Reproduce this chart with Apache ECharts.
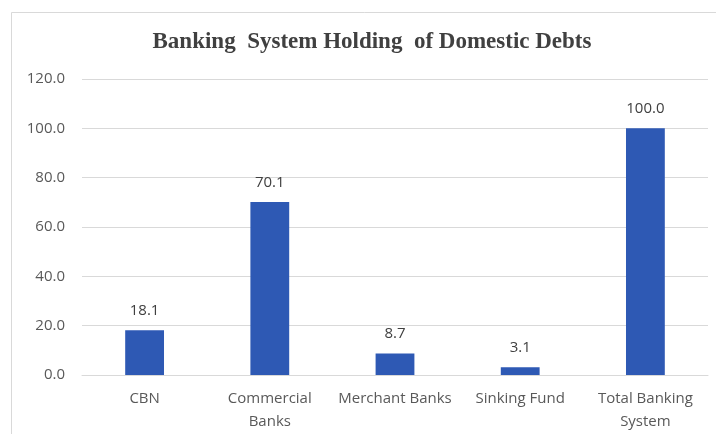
<!DOCTYPE html>
<html>
<head>
<meta charset="utf-8">
<script src="https://cdn.jsdelivr.net/npm/echarts@6/dist/echarts.min.js"></script>
<style>
  html, body { margin: 0; padding: 0; background: #fff; }
  #chart { width: 716px; height: 434px; }
</style>
</head>
<body>
<div id="chart"></div>
<script>
// Holdings of domestic debt by institution (percent share)
const categories = ['CBN', 'Commercial\nBanks', 'Merchant Banks', 'Sinking Fund', 'Total Banking\nSystem'];
const shares = [18.1, 70.1, 8.7, 3.1, 100.0];
const yTicks = { min: 0, max: 120, step: 20 };

const textFont = '"Open Sans", "Noto Sans", sans-serif';
const chart = echarts.init(document.getElementById('chart'), null, { renderer: 'canvas' });

chart.setOption({
  animation: false,
  backgroundColor: '#ffffff',
  graphic: [{
    type: 'rect',
    shape: { x: 11.5, y: 12.5, width: 720, height: 440 },
    style: { fill: 'none', stroke: '#d9d9d9', lineWidth: 1 },
    silent: true
  }],
  title: {
    text: 'Banking  System Holding  of Domestic Debts',
    left: 367,
    top: 26,
    textAlign: 'center',
    textStyle: {
      fontFamily: '"Liberation Serif", "DejaVu Serif", serif',
      fontWeight: 'bold',
      fontSize: 23,
      color: '#404040'
    }
  },
  grid: { left: 82, right: 8, top: 79, bottom: 59, containLabel: false },
  xAxis: {
    type: 'category',
    data: categories,
    axisLine: { lineStyle: { color: '#d9d9d9', width: 1 } },
    axisTick: { show: false },
    axisLabel: {
      color: '#595959',
      fontFamily: textFont,
      fontSize: 15,
      margin: 12,
      lineHeight: 23,
      interval: 0
    }
  },
  yAxis: {
    type: 'value',
    min: yTicks.min,
    max: yTicks.max,
    interval: yTicks.step,
    axisLine: { show: false },
    axisTick: { show: false },
    splitLine: { lineStyle: { color: '#d9d9d9', width: 1 } },
    axisLabel: {
      color: '#595959',
      fontFamily: textFont,
      fontSize: 15,
      margin: 17,
      formatter: v => v.toFixed(1)
    }
  },
  series: [{
    type: 'bar',
    data: shares,
    barWidth: '31%',
    itemStyle: { color: '#2e59b4' },
    label: {
      show: true,
      position: 'top',
      distance: 12,
      color: '#404040',
      fontFamily: textFont,
      fontSize: 15,
      formatter: p => p.value.toFixed(1)
    }
  }]
});
</script>
</body>
</html>
